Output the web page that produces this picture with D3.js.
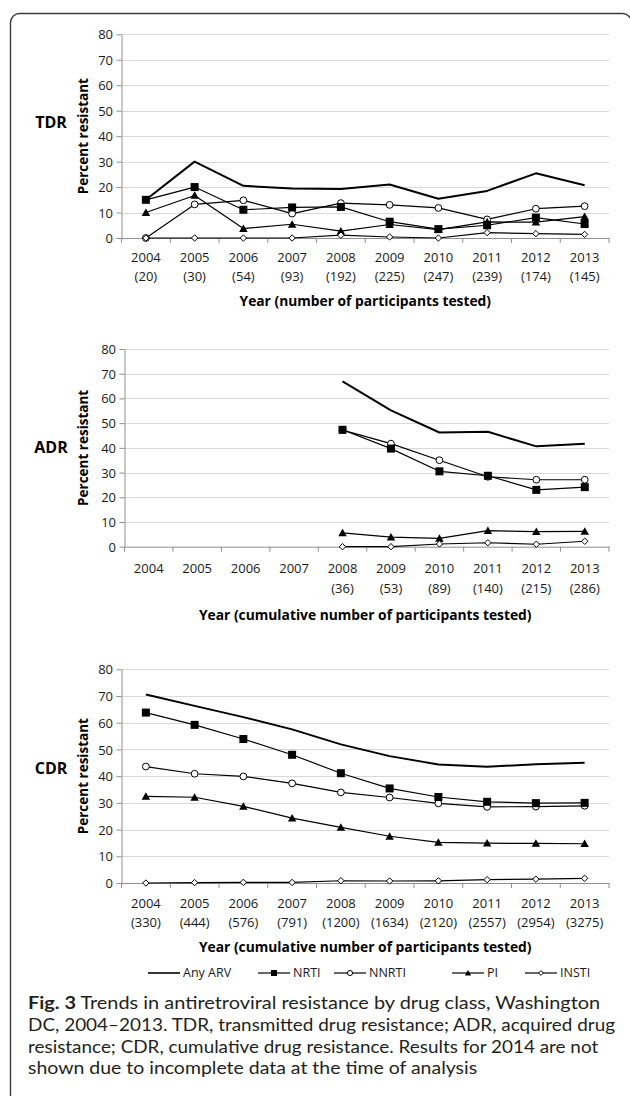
<!DOCTYPE html>
<html>
<head>
<meta charset="utf-8">
<script src="https://cdn.jsdelivr.net/npm/d3@7"></script>
<style>
  html, body { margin: 0; padding: 0; background: #fff; }
  svg { display: block; }
  text { font-family: "Open Sans", "DejaVu Sans", sans-serif; }
</style>
</head>
<body>
<svg id="chart" width="630" height="1096"></svg>
<script>
// ---------------- data ----------------
const years = [2004, 2005, 2006, 2007, 2008, 2009, 2010, 2011, 2012, 2013];
const yTicks = [0, 10, 20, 30, 40, 50, 60, 70, 80];
const seriesNames = ["Any ARV", "NRTI", "NNRTI", "PI", "INSTI"];

const tdrCounts = [20, 30, 54, 93, 192, 225, 247, 239, 174, 145];
const adrCounts = [null, null, null, null, 36, 53, 89, 140, 215, 286];
const cdrCounts = [330, 444, 576, 791, 1200, 1634, 2120, 2557, 2954, 3275];

const tdrAny   = [15.0, 30.0, 20.5, 19.4, 19.2, 21.0, 15.4, 18.5, 25.4, 20.7];
const tdrNRTI  = [15.0, 20.0, 11.1, 12.0, 12.2, 6.4, 3.5, 5.0, 8.0, 5.5];
const tdrNNRTI = [0.0, 13.2, 14.8, 9.6, 13.7, 13.0, 11.8, 7.3, 11.5, 12.5];
const tdrPI    = [10.0, 16.7, 3.7, 5.4, 2.7, 5.3, 3.3, 6.3, 6.2, 8.4];
const tdrINSTI = [0.0, 0.0, 0.0, 0.0, 1.1, 0.4, 0.0, 2.1, 1.7, 1.4];

const adrAny   = [null, null, null, null, 66.9, 55.2, 46.2, 46.5, 40.6, 41.7];
const adrNRTI  = [null, null, null, null, 47.3, 39.7, 30.5, 28.7, 23.0, 24.1];
const adrNNRTI = [null, null, null, null, 47.2, 41.7, 35.0, 28.3, 27.1, 27.1];
const adrPI    = [null, null, null, null, 5.6, 3.9, 3.4, 6.5, 6.1, 6.2];
const adrINSTI = [null, null, null, null, 0.0, 0.0, 1.1, 1.6, 1.0, 2.2];

const cdrAny   = [70.6, 66.3, 62.1, 57.5, 51.9, 47.5, 44.4, 43.5, 44.5, 45.0];
const cdrNRTI  = [63.8, 59.2, 53.9, 48.0, 41.1, 35.4, 32.2, 30.4, 29.9, 30.0];
const cdrNNRTI = [43.6, 40.9, 39.9, 37.3, 33.9, 32.0, 29.8, 28.5, 28.6, 28.9];
const cdrPI    = [32.4, 32.1, 28.7, 24.3, 20.8, 17.5, 15.2, 14.9, 14.8, 14.7];
const cdrINSTI = [0.0, 0.15, 0.25, 0.2, 0.85, 0.75, 0.8, 1.25, 1.45, 1.75];

const captionLines = [
  ["Fig. 3", "  Trends in antiretroviral resistance by drug class, Washington"],
  ["", "DC, 2004\u20132013. TDR, transmitted drug resistance; ADR, acquired drug"],
  ["", "resistance; CDR, cumulative drug resistance. Results for 2014 are not"],
  ["", "shown due to incomplete data at the time of analysis"]
];

// ---------------- drawing ----------------
const svg = d3.select("#chart");

// outer frame
svg.append("rect")
  .attr("x", 10.5).attr("y", 13.5)
  .attr("width", 621).attr("height", 1100)
  .attr("rx", 9).attr("ry", 9)
  .attr("fill", "none").attr("stroke", "#3a3a3a").attr("stroke-width", 1.4);

const markerStyle = {
  "Any ARV": null,
  "NRTI": "square",
  "NNRTI": "circle",
  "PI": "triangle",
  "INSTI": "diamond"
};
// stacking order of the series (later drawn on top)
const drawOrder = [0, 2, 1, 3, 4];

function drawMarker(g, type, x, y, scale) {
  const s = scale || 1;
  if (type === "square") {
    g.append("rect").attr("x", x - 4 * s).attr("y", y - 4 * s)
      .attr("width", 8 * s).attr("height", 8 * s).attr("fill", "#000");
  } else if (type === "circle") {
    g.append("circle").attr("cx", x).attr("cy", y).attr("r", 3.4 * s)
      .attr("fill", "#fff").attr("stroke", "#000").attr("stroke-width", 1);
  } else if (type === "triangle") {
    const h = 7.5 * s, w = 8.5 * s;
    g.append("path")
      .attr("d", `M${x},${y - h * 0.55}L${x + w / 2},${y + h * 0.45}L${x - w / 2},${y + h * 0.45}Z`)
      .attr("fill", "#000");
  } else if (type === "diamond") {
    const r = 3.2 * s;
    g.append("path")
      .attr("d", `M${x},${y - r}L${x + r},${y}L${x},${y + r}L${x - r},${y}Z`)
      .attr("fill", "#fff").attr("stroke", "#000").attr("stroke-width", 1);
  }
}

function panel(cfg) {
  const g = svg.append("g");
  const right = 609;
  const x = d3.scaleBand().domain(years).range([cfg.left, right]).padding(0);
  const y = d3.scaleLinear().domain([0, 80]).range([cfg.y0, cfg.y80]);
  const cx = d => x(d) + x.bandwidth() / 2;

  // gridlines
  g.append("g").selectAll("line")
    .data(yTicks.filter(t => t > 0))
    .join("line")
    .attr("x1", cfg.left).attr("x2", right)
    .attr("y1", d => Math.round(y(d)) + 0.5).attr("y2", d => Math.round(y(d)) + 0.5)
    .attr("stroke", "#d9d9d9").attr("stroke-width", 1);

  // y axis
  const ya = g.append("g")
    .attr("transform", `translate(${cfg.left},0)`)
    .call(d3.axisLeft(y).tickValues(yTicks).tickSize(5).tickSizeOuter(0).tickPadding(3.5));
  ya.select(".domain").attr("stroke", "#8f8f8f");
  ya.selectAll(".tick line").attr("stroke", "#8f8f8f");
  ya.selectAll(".tick text")
    .attr("font-family", "'Open Sans', sans-serif")
    .attr("font-size", 13).attr("fill", "#1a1a1a")
    .attr("dy", "0.35em");

  // x axis
  const xa = g.append("g")
    .attr("transform", `translate(0,${cfg.y0})`)
    .call(d3.axisBottom(x).tickSize(0).tickSizeOuter(0).tickFormat(d => d));
  xa.select(".domain").attr("stroke", "#8f8f8f");
  xa.selectAll(".tick text")
    .attr("font-family", "'Open Sans', sans-serif")
    .attr("font-size", 13).attr("fill", "#1a1a1a")
    .attr("y", cfg.lab1).attr("dy", "0.35em");
  xa.selectAll(".tick").each(function (d, i) {
    const c = cfg.counts[i];
    if (c != null) {
      d3.select(this).append("text")
        .attr("fill", "#1a1a1a")
        .attr("font-family", "'Open Sans', sans-serif")
        .attr("font-size", 13)
        .attr("y", cfg.lab2).attr("dy", "0.35em")
        .attr("text-anchor", "middle")
        .text(`(${c})`);
    }
  });
  // category boundary ticks
  const bounds = years.map(d => x(d)).concat([x(years[years.length - 1]) + x.bandwidth()]);
  xa.append("g").selectAll("line")
    .data(bounds)
    .join("line")
    .attr("x1", d => d).attr("x2", d => d)
    .attr("y1", 0).attr("y2", 5)
    .attr("stroke", "#8f8f8f");

  // series
  const line = d3.line()
    .defined(d => d.v != null)
    .x(d => cx(d.year))
    .y(d => y(d.v));
  drawOrder.forEach(si => {
    const vals = cfg.series[si];
    const name = seriesNames[si];
    const pts = years.map((yr, i) => ({ year: yr, v: vals[i] }));
    g.append("path")
      .datum(pts)
      .attr("d", line)
      .attr("fill", "none")
      .attr("stroke", "#000")
      .attr("stroke-width", name === "Any ARV" ? 2 : 1.2)
      .attr("stroke-linejoin", "round");
    const mg = g.append("g");
    pts.filter(p => p.v != null).forEach(p => {
      drawMarker(mg, markerStyle[name], cx(p.year), y(p.v));
    });
  });

  // labels
  g.append("text")
    .attr("x", 51).attr("y", cfg.labelY)
    .attr("dy", "0.35em")
    .attr("text-anchor", "middle")
    .attr("font-size", 16).attr("font-weight", "bold").attr("fill", "#000")
    .text(cfg.label);

  g.append("text")
    .attr("transform", `translate(83,${(cfg.y0 + cfg.y80) / 2}) rotate(-90)`)
    .attr("dy", "0.35em")
    .attr("text-anchor", "middle")
    .attr("font-size", 13.5).attr("font-weight", "bold").attr("fill", "#000")
    .text("Percent resistant");

  g.append("text")
    .attr("x", (121.5 + right) / 2).attr("y", cfg.titleY)
    .attr("dy", "0.35em")
    .attr("text-anchor", "middle")
    .attr("font-size", 13.8).attr("font-weight", "bold").attr("fill", "#000")
    .text(cfg.title);
}

panel({
  label: "TDR", labelY: 122, left: 121.5, y0: 238, y80: 34.3,
  lab1: 19.5, lab2: 38.5, counts: tdrCounts, titleY: 301,
  title: "Year (number of participants tested)",
  series: [tdrAny, tdrNRTI, tdrNNRTI, tdrPI, tdrINSTI]
});
panel({
  label: "ADR", labelY: 447, left: 124.5, y0: 546.7, y80: 349,
  lab1: 21.5, lab2: 41.5, counts: adrCounts, titleY: 615,
  title: "Year (cumulative number of participants tested)",
  series: [adrAny, adrNRTI, adrNNRTI, adrPI, adrINSTI]
});
panel({
  label: "CDR", labelY: 768, left: 121.5, y0: 883, y80: 669.3,
  lab1: 20, lab2: 39.5, counts: cdrCounts, titleY: 947,
  title: "Year (cumulative number of participants tested)",
  series: [cdrAny, cdrNRTI, cdrNNRTI, cdrPI, cdrINSTI]
});

// legend
const legendX = [148, 258, 334, 452, 525];
const legendY = 973;
const lg = svg.append("g");
seriesNames.forEach((name, i) => {
  const x0 = legendX[i];
  lg.append("line")
    .attr("x1", x0).attr("x2", x0 + 32)
    .attr("y1", legendY).attr("y2", legendY)
    .attr("stroke", "#000").attr("stroke-width", name === "Any ARV" ? 1.6 : 1.2);
  drawMarker(lg, markerStyle[name], x0 + 16, legendY, 0.75);
  lg.append("text")
    .attr("x", x0 + 35).attr("y", legendY)
    .attr("dy", "0.35em")
    .attr("font-size", 12.5).attr("fill", "#1a1a1a")
    .text(name);
});

// caption
const capBase = [1009, 1031, 1052.5, 1074];
const capWidths = [572, 587, 570, 449];
captionLines.forEach((ln, i) => {
  const t = svg.append("text")
    .attr("x", 0).attr("y", 0)
    .style("font-family", "Lato, 'Open Sans', sans-serif")
    .attr("font-size", 17.8).attr("fill", "#231f20");
  if (ln[0]) t.append("tspan").attr("font-weight", "bold").text(ln[0]);
  t.append("tspan").attr("font-weight", "normal").text(ln[1]);
  const natural = t.node().getComputedTextLength();
  const k = capWidths[i] / natural;
  t.attr("transform", `translate(28,${capBase[i]}) scale(${k},1)`);
});
</script>
</body>
</html>
